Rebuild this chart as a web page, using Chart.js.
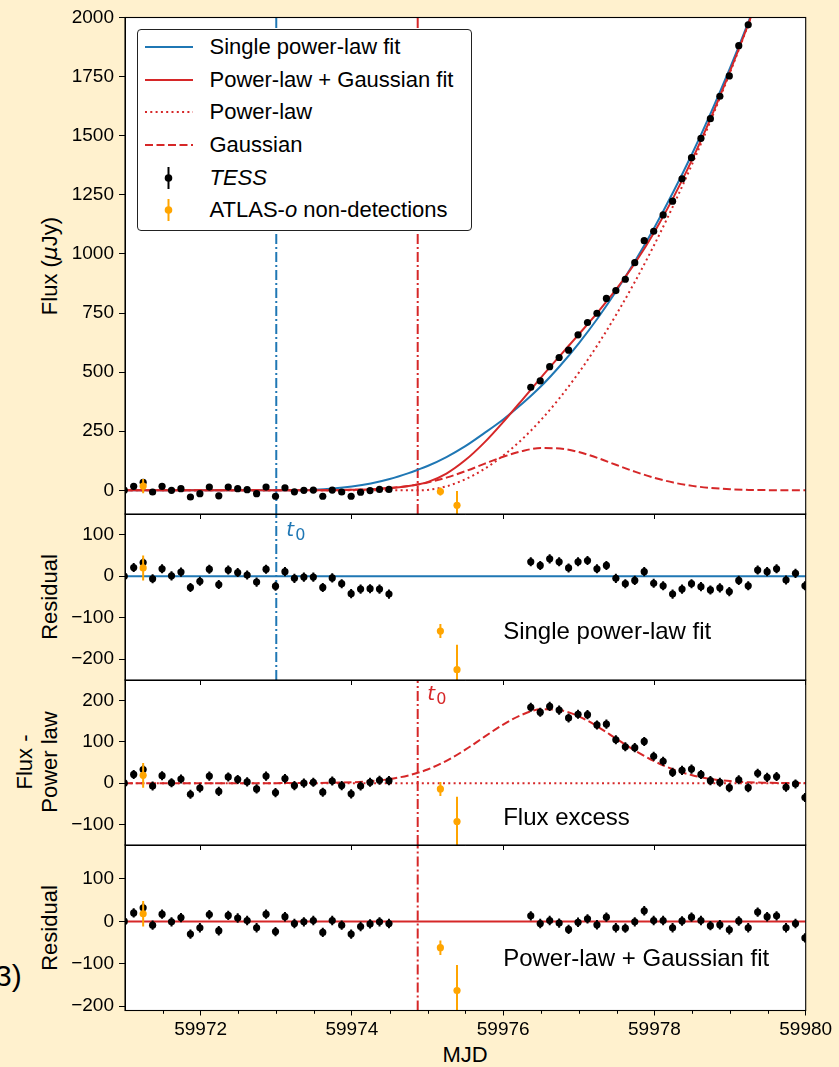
<!DOCTYPE html>
<html lang="en">
<head>
<meta charset="utf-8">
<title>TESS early light curve: power-law and Gaussian fits</title>
<script src="https://cdn.jsdelivr.net/npm/chart.js@4.4.1/dist/chart.umd.min.js"></script>
<style>
  html, body { margin: 0; padding: 0; background: #fff1ce; }
  #fig { position: relative; width: 839px; height: 1067px; overflow: hidden;
         font-family: "Liberation Sans", Arial, sans-serif; color: #000; }
  #fig canvas { position: absolute; left: 0; top: 0; }
  .txt { position: absolute; white-space: nowrap; line-height: 1; }
  .ylab { font-size: 22px; transform: translate(-50%, -50%) rotate(-90deg); text-align: center; }
  .math { font-family: "DejaVu Sans", sans-serif; font-style: italic; }
  #legend { position: absolute; left: 137px; top: 29px; width: 335px; height: 202px;
            background: #fff; border: 1.3px solid #222; border-radius: 4px;
            box-sizing: border-box; z-index: 10; }
  .lrow { position: absolute; left: 0; width: 100%; height: 30px; }
  .lrow svg { position: absolute; left: 6px; top: 0; }
  .lrow span { position: absolute; left: 71.5px; top: 50%; transform: translateY(-50%);
               font-size: 22px; line-height: 1; white-space: nowrap; }
</style>
</head>
<body>
<div id="fig">
  <canvas id="p4" width="839" height="1067" style="z-index:1"></canvas>
  <canvas id="p3" width="839" height="1067" style="z-index:2"></canvas>
  <canvas id="p2" width="839" height="1067" style="z-index:3"></canvas>
  <canvas id="p1" width="839" height="1067" style="z-index:4"></canvas>

  <div id="legend">
    <div class="lrow" style="top:2.4px">
      <svg width="52" height="30"><line x1="1" y1="15" x2="49" y2="15" stroke="#1f77b4" stroke-width="2"/></svg>
      <span>Single power-law fit</span>
    </div>
    <div class="lrow" style="top:34.7px">
      <svg width="52" height="30"><line x1="1" y1="15" x2="49" y2="15" stroke="#d62728" stroke-width="2"/></svg>
      <span>Power-law + Gaussian fit</span>
    </div>
    <div class="lrow" style="top:67.4px">
      <svg width="52" height="30"><line x1="1" y1="15" x2="49" y2="15" stroke="#d62728" stroke-width="2" stroke-dasharray="2 3.3"/></svg>
      <span>Power-law</span>
    </div>
    <div class="lrow" style="top:99.7px">
      <svg width="52" height="30"><line x1="1" y1="15" x2="49" y2="15" stroke="#d62728" stroke-width="2" stroke-dasharray="8 3.5"/></svg>
      <span>Gaussian</span>
    </div>
    <div class="lrow" style="top:133px">
      <svg width="52" height="30"><line x1="24.5" y1="4" x2="24.5" y2="26" stroke="#000" stroke-width="2"/><circle cx="24.5" cy="15" r="3.8" fill="#000"/></svg>
      <span><i>TESS</i></span>
    </div>
    <div class="lrow" style="top:164.7px">
      <svg width="52" height="30"><line x1="24.5" y1="4" x2="24.5" y2="26" stroke="#ffa500" stroke-width="2"/><circle cx="24.5" cy="15" r="3.8" fill="#ffa500"/></svg>
      <span>ATLAS-<i>o</i> non-detections</span>
    </div>
  </div>

  <div class="txt ylab" style="left:50px;top:266px">Flux (<span class="math">μ</span>Jy)</div>
  <div class="txt ylab" style="left:50px;top:597px">Residual</div>
  <div class="txt ylab" style="left:37px;top:762px;line-height:25px">Flux -<br>Power law</div>
  <div class="txt ylab" style="left:50px;top:928px">Residual</div>
  <div class="txt" style="left:465px;top:1055px;transform:translate(-50%,-50%);font-size:22px">MJD</div>
  <div class="txt" style="left:-5px;top:961px;font-size:30px">3)</div>
</div>

<script>
// ---------------- axes ----------------
const X_MIN = 59971.0;
const X_MAX = 59980.0;
const X_MAJOR_TICKS = [59972, 59974, 59976, 59978, 59980];
const X_MINOR_TICKS = [59971.5, 59972.5, 59973, 59973.5, 59974.5, 59975, 59975.5,
                       59976.5, 59977, 59977.5, 59978.5, 59979, 59979.5];

const Y_RANGE_FLUX = [-100, 2000];
const Y_TICKS_FLUX = [0, 250, 500, 750, 1000, 1250, 1500, 1750, 2000];
const Y_RANGE_RESID_SINGLE = [-250, 150];
const Y_TICKS_RESID_SINGLE = [-200, -100, 0, 100];
const Y_RANGE_EXCESS = [-150, 250];
const Y_TICKS_EXCESS = [-100, 0, 100, 200];
const Y_RANGE_RESID_DOUBLE = [-210, 180];
const Y_TICKS_RESID_DOUBLE = [-200, -100, 0, 100];

// first-light epochs of the two fits (MJD)
const T0_SINGLE = 59973.0;
const T0_DOUBLE = 59974.87;

// ---------------- TESS photometry ----------------
const TESS_MJD = [
  59970.990, 59971.115, 59971.240, 59971.365, 59971.490, 59971.615, 59971.740, 59971.865,
  59971.990, 59972.115, 59972.240, 59972.365, 59972.490, 59972.615, 59972.740, 59972.865,
  59972.990, 59973.115, 59973.240, 59973.365, 59973.490, 59973.615, 59973.740, 59973.865,
  59973.990, 59974.115, 59974.240, 59974.365, 59974.490,
  59976.365, 59976.490, 59976.615, 59976.740, 59976.865, 59976.990, 59977.115, 59977.240,
  59977.365, 59977.490, 59977.615, 59977.740, 59977.865, 59977.990, 59978.115, 59978.240,
  59978.365, 59978.490, 59978.615, 59978.740, 59978.865, 59978.990, 59979.115, 59979.240,
  59979.365, 59979.490, 59979.615, 59979.740, 59979.865, 59979.990
];
// flux in microjansky (points above the top of the flux panel are not shown)
const TESS_FLUX = [
  0, 17, 34, -7, 17, 0, 7, -28, -14, 14, -23, 14, 7, 3, -14, 14, -25, 11, -6, 0, 1, -25, 1, -7,
  -25, -8, -1, 4, 4,
  436, 463, 523, 562, 593, 658, 710, 749, 812, 845, 893, 963, 1056, 1096, 1165, 1223,
  1318, 1407, 1489, 1572, 1667, 1753, 1881, 1969,
  null, null, null, null, null, null
];
const TESS_RESID_SINGLE = [
  0, 21, 33, -6, 18, 1, 10, -27, -12, 17, -20, 15, 9, 3, -14, 17, -24, 11, -5, -2, -2, -27, -4, -18,
  -42, -31, -30, -31, -43,
  35, 26, 42, 35, 20, 35, 38, 18, 26, -5, -18, -10, 11, -17, -23, -43,
  -31, -18, -25, -33, -28, -37, -10, -23, 15, 11, 18, -9, 7, -23
];
const TESS_EXCESS = [
  0, 21, 33, -7, 18, 1, 10, -27, -12, 17, -20, 15, 9, 3, -14, 17, -23, 11, -6, 0, 2, -22, 5, -6,
  -26, -7, 2, 7, 6,
  184, 172, 186, 177, 158, 167, 166, 141, 143, 105, 88, 86, 101, 65, 53, 26,
  31, 34, 21, 6, 2, -11, 8, -11, 24, 14, 16, -10, -2, -35
];
const TESS_RESID_DOUBLE = [
  0, 20, 32, -9, 17, -1, 9, -30, -15, 16, -22, 14, 8, 2, -15, 17, -24, 11, -5, -1, 2, -26, 2, -9,
  -30, -12, -6, -1, -5,
  13, -5, 2, -4, -19, -2, 6, -8, 10, -15, -16, -1, 25, 2, 2, -15,
  1, 10, 2, -10, -8, -20, 1, -15, 22, 11, 13, -15, -5, -39
];
const TESS_ERR = 11;

// ---------------- ATLAS-o non-detections ----------------
const ATLAS_MJD = [59971.24, 59975.17, 59975.39];
const ATLAS_FLUX = [18, -5, -63];
const ATLAS_RESID_SINGLE = [20, -132, -225];
const ATLAS_EXCESS = [19, -14, -93];
const ATLAS_RESID_DOUBLE = [18, -62, -163];
const ATLAS_ERR = [30, 17, 60];

// ---------------- model curves ----------------
const MODEL_MJD = [
  59971.0, 59971.5, 59972.0, 59972.5, 59973.0, 59973.25, 59973.5, 59973.75, 59974.0, 59974.25,
  59974.5, 59974.75, 59974.87, 59975.0, 59975.25, 59975.5, 59975.75, 59976.0, 59976.25, 59976.5,
  59976.75, 59977.0, 59977.25, 59977.5, 59977.75, 59978.0, 59978.25, 59978.5, 59978.75, 59979.0,
  59979.25, 59979.5, 59979.75, 59980.0
];
const MODEL_SINGLE_PL = [
  0, 0, 0, 0, 0, 0.4, 2.5, 7.5, 16, 29,
  48, 73, 87, 103, 141, 187, 242, 300, 366, 440,
  526, 622, 728, 845, 973, 1112, 1263, 1425, 1600, 1787,
  1987, 2200, 2425, 2660
];
const MODEL_PL_GAUSS = [
  0, 0, 0, 0, 0, 0.1, 0.3, 0.9, 2.1, 4.7,
  9.8, 18.8, 25, 35, 71, 128, 202, 289, 382, 477,
  569, 660, 753, 853, 965, 1093, 1238, 1400, 1579, 1773,
  1980, 2199, 2428, 2668
];
const MODEL_PL = [
  0, 0, 0, 0, 0, 0, 0, 0, 0, 0,
  0, 0, 0, 1.8, 17, 47, 90, 147, 216, 298,
  392, 498, 616, 746, 887, 1040, 1205, 1381, 1569, 1768,
  1978, 2198, 2428, 2668
];
const MODEL_GAUSS = [
  0, 0, 0, 0, 0, 0.1, 0.3, 0.9, 2.1, 4.7,
  9.8, 18.8, 25, 33, 54, 81, 112, 142, 166, 179,
  177, 162, 137, 107, 78, 53, 33, 19, 10, 5,
  2, 1, 0.3, 0.1
];
const ZERO_LEVEL = [0, 0];

// ---------------- styling ----------------
const BLUE = '#1f77b4', RED = '#d62728', ORANGE = '#ffa500', BLACK = '#000000';
const DASHED = [8, 3.5], DOTTED = [2, 3.3], DASHDOT = [10, 3, 2, 3];
const PLOT_LEFT = 125, PLOT_RIGHT = 805.7, PAGE_W = 839, PAGE_H = 1067;
const TICK_FONT = { family: '"Liberation Sans", Arial, sans-serif', size: 19 };

const toPoints = (xs, ys) => xs.map((x, i) => ({ x, y: ys[i] })).filter(p => p.y !== null);
const errorSegments = (xs, ys, err) => {
  const out = [];
  xs.forEach((x, i) => {
    if (ys[i] === null) return;
    const e = Array.isArray(err) ? err[i] : err;
    out.push({ x, y: ys[i] - e }, { x, y: ys[i] + e }, { x, y: null });
  });
  return out;
};
const vertical = (x, range) => [{ x, y: range[0] }, { x, y: range[1] }];
const horizontal = (levels) => [{ x: X_MIN, y: levels[0] }, { x: X_MAX, y: levels[1] }];

const curve = (data, color, dash) => ({
  data, showLine: true, borderColor: color, backgroundColor: color, borderWidth: 2,
  borderDash: dash || [], pointRadius: 0, cubicInterpolationMode: 'monotone', fill: false, clip: 0
});
const straight = (data, color, dash) => ({
  data, showLine: true, borderColor: color, backgroundColor: color, borderWidth: 2,
  borderDash: dash || [], pointRadius: 0, tension: 0, fill: false, clip: 0
});
const bars = (data, color) => ({
  data, showLine: true, spanGaps: false, borderColor: color, backgroundColor: color,
  borderWidth: 2, pointRadius: 0, tension: 0, fill: false, clip: 0
});
const markers = (data, color) => ({
  data, showLine: false, pointRadius: 3.6, pointHoverRadius: 3.6, pointBackgroundColor: color,
  pointBorderColor: color, pointBorderWidth: 0, backgroundColor: color, borderColor: color, clip: 0
});
const minus = v => (v < 0 ? '\u2212' + Math.abs(v) : String(v));

// panel decorations: white plotting area, frame, labels, minor ticks
function decor(spec) {
  return {
    id: 'panelDecor',
    beforeDraw(chart) {
      const a = chart.chartArea, c = chart.ctx;
      c.save();
      c.fillStyle = '#ffffff';
      c.fillRect(a.left, a.top, a.right - a.left, a.bottom - a.top);
      c.restore();
    },
    afterDatasetsDraw(chart) {
      const c = chart.ctx, xs = chart.scales.x, ys = chart.scales.y, a = chart.chartArea;
      c.save();
      (spec.notes || []).forEach(n => {
        c.fillStyle = BLACK;
        c.font = '24px "Liberation Sans", Arial, sans-serif';
        c.textBaseline = 'alphabetic';
        c.textAlign = 'left';
        c.fillText(n.text, xs.getPixelForValue(n.x), ys.getPixelForValue(n.y));
      });
      if (spec.t0) {
        const px = xs.getPixelForValue(spec.t0.x);
        c.fillStyle = spec.t0.color;
        c.textBaseline = 'alphabetic';
        c.font = 'italic 20px "DejaVu Sans", sans-serif';
        c.fillText('t', px + spec.t0.dx, a.top + spec.t0.dy);
        c.font = '16px "DejaVu Sans", sans-serif';
        c.fillText('0', px + spec.t0.dx + 9, a.top + spec.t0.dy + 4);
      }
      c.restore();
    },
    afterDraw(chart) {
      const a = chart.chartArea, c = chart.ctx, xs = chart.scales.x;
      c.save();
      c.strokeStyle = BLACK;
      c.lineWidth = 1.1;
      c.strokeRect(a.left, a.top, a.right - a.left, a.bottom - a.top);
      if (spec.bottomAxis) {
        c.lineWidth = 1;
        X_MINOR_TICKS.forEach(v => {
          const px = Math.round(xs.getPixelForValue(v)) + 0.5;
          c.beginPath();
          c.moveTo(px, a.bottom);
          c.lineTo(px, a.bottom + 3.3);
          c.stroke();
        });
      }
      c.restore();
    }
  };
}

function makePanel(id, spec) {
  const xAxisH = spec.bottomAxis ? 40 : 6;
  const [top, bottom] = spec.px;
  return new Chart(document.getElementById(id), {
    type: 'scatter',
    data: { datasets: spec.datasets },
    options: {
      responsive: false, animation: false, devicePixelRatio: 1, events: [],
      layout: { padding: { left: 0, right: PAGE_W - PLOT_RIGHT, top, bottom: PAGE_H - bottom - xAxisH } },
      plugins: { legend: { display: false }, tooltip: { enabled: false } },
      scales: {
        x: {
          type: 'linear', min: X_MIN, max: X_MAX,
          afterBuildTicks: s => { s.ticks = X_MAJOR_TICKS.map(v => ({ value: v })); },
          afterFit: s => { s.height = xAxisH; },
          grid: { display: true, drawOnChartArea: false, drawTicks: true, tickLength: 5, color: BLACK, lineWidth: 1 },
          border: { display: true, color: BLACK, width: 1 },
          ticks: { display: !!spec.bottomAxis, autoSkip: false, maxRotation: 0, padding: 3,
                   font: TICK_FONT, color: BLACK, callback: v => String(v) }
        },
        y: {
          type: 'linear', min: spec.range[0], max: spec.range[1],
          afterBuildTicks: s => { s.ticks = spec.ticks.map(v => ({ value: v })); },
          afterFit: s => { s.width = PLOT_LEFT; },
          grid: { display: true, drawOnChartArea: false, drawTicks: true, tickLength: 6, color: BLACK, lineWidth: 1 },
          border: { display: true, color: BLACK, width: 1 },
          ticks: { autoSkip: false, padding: 5, font: TICK_FONT, color: BLACK, callback: v => minus(v) }
        }
      }
    },
    plugins: [decor(spec)]
  });
}

// ---- panel 1: light curve and fits ----
makePanel('p1', {
  px: [17.5, 514], range: Y_RANGE_FLUX, ticks: Y_TICKS_FLUX,
  datasets: [
    markers(toPoints(ATLAS_MJD, ATLAS_FLUX), ORANGE),
    bars(errorSegments(ATLAS_MJD, ATLAS_FLUX, ATLAS_ERR), ORANGE),
    markers(toPoints(TESS_MJD, TESS_FLUX), BLACK),
    bars(errorSegments(TESS_MJD, TESS_FLUX, TESS_ERR), BLACK),
    curve(toPoints(MODEL_MJD, MODEL_PL_GAUSS), RED),
    curve(toPoints(MODEL_MJD, MODEL_PL), RED, DOTTED),
    curve(toPoints(MODEL_MJD, MODEL_GAUSS), RED, DASHED),
    curve(toPoints(MODEL_MJD, MODEL_SINGLE_PL), BLUE),
    straight(vertical(T0_DOUBLE, Y_RANGE_FLUX), RED, DASHDOT),
    straight(vertical(T0_SINGLE, Y_RANGE_FLUX), BLUE, DASHDOT)
  ]
});

// ---- panel 2: residuals of the single power law ----
makePanel('p2', {
  px: [514, 680], range: Y_RANGE_RESID_SINGLE, ticks: Y_TICKS_RESID_SINGLE,
  notes: [{ x: 59976.0, y: -152, text: 'Single power-law fit' }],
  t0: { x: T0_SINGLE, color: BLUE, dx: 10, dy: 22 },
  datasets: [
    markers(toPoints(ATLAS_MJD, ATLAS_RESID_SINGLE), ORANGE),
    bars(errorSegments(ATLAS_MJD, ATLAS_RESID_SINGLE, ATLAS_ERR), ORANGE),
    markers(toPoints(TESS_MJD, TESS_RESID_SINGLE), BLACK),
    bars(errorSegments(TESS_MJD, TESS_RESID_SINGLE, TESS_ERR), BLACK),
    straight(horizontal(ZERO_LEVEL), BLUE),
    straight(vertical(T0_SINGLE, Y_RANGE_RESID_SINGLE), BLUE, DASHDOT)
  ]
});

// ---- panel 3: flux minus the power-law component ----
makePanel('p3', {
  px: [680, 845], range: Y_RANGE_EXCESS, ticks: Y_TICKS_EXCESS,
  notes: [{ x: 59976.0, y: -101, text: 'Flux excess' }],
  t0: { x: T0_DOUBLE, color: RED, dx: 9.5, dy: 20 },
  datasets: [
    markers(toPoints(ATLAS_MJD, ATLAS_EXCESS), ORANGE),
    bars(errorSegments(ATLAS_MJD, ATLAS_EXCESS, ATLAS_ERR), ORANGE),
    markers(toPoints(TESS_MJD, TESS_EXCESS), BLACK),
    bars(errorSegments(TESS_MJD, TESS_EXCESS, TESS_ERR), BLACK),
    curve(toPoints(MODEL_MJD, MODEL_GAUSS), RED, DASHED),
    straight(horizontal(ZERO_LEVEL), RED, DOTTED),
    straight(vertical(T0_DOUBLE, Y_RANGE_EXCESS), RED, DASHDOT)
  ]
});

// ---- panel 4: residuals of power law + Gaussian ----
makePanel('p4', {
  px: [845, 1010.5], range: Y_RANGE_RESID_DOUBLE, ticks: Y_TICKS_RESID_DOUBLE, bottomAxis: true,
  notes: [{ x: 59976.0, y: -104, text: 'Power-law + Gaussian fit' }],
  datasets: [
    markers(toPoints(ATLAS_MJD, ATLAS_RESID_DOUBLE), ORANGE),
    bars(errorSegments(ATLAS_MJD, ATLAS_RESID_DOUBLE, ATLAS_ERR), ORANGE),
    markers(toPoints(TESS_MJD, TESS_RESID_DOUBLE), BLACK),
    bars(errorSegments(TESS_MJD, TESS_RESID_DOUBLE, TESS_ERR), BLACK),
    straight(horizontal(ZERO_LEVEL), RED),
    straight(vertical(T0_DOUBLE, Y_RANGE_RESID_DOUBLE), RED, DASHDOT)
  ]
});
</script>
</body>
</html>
